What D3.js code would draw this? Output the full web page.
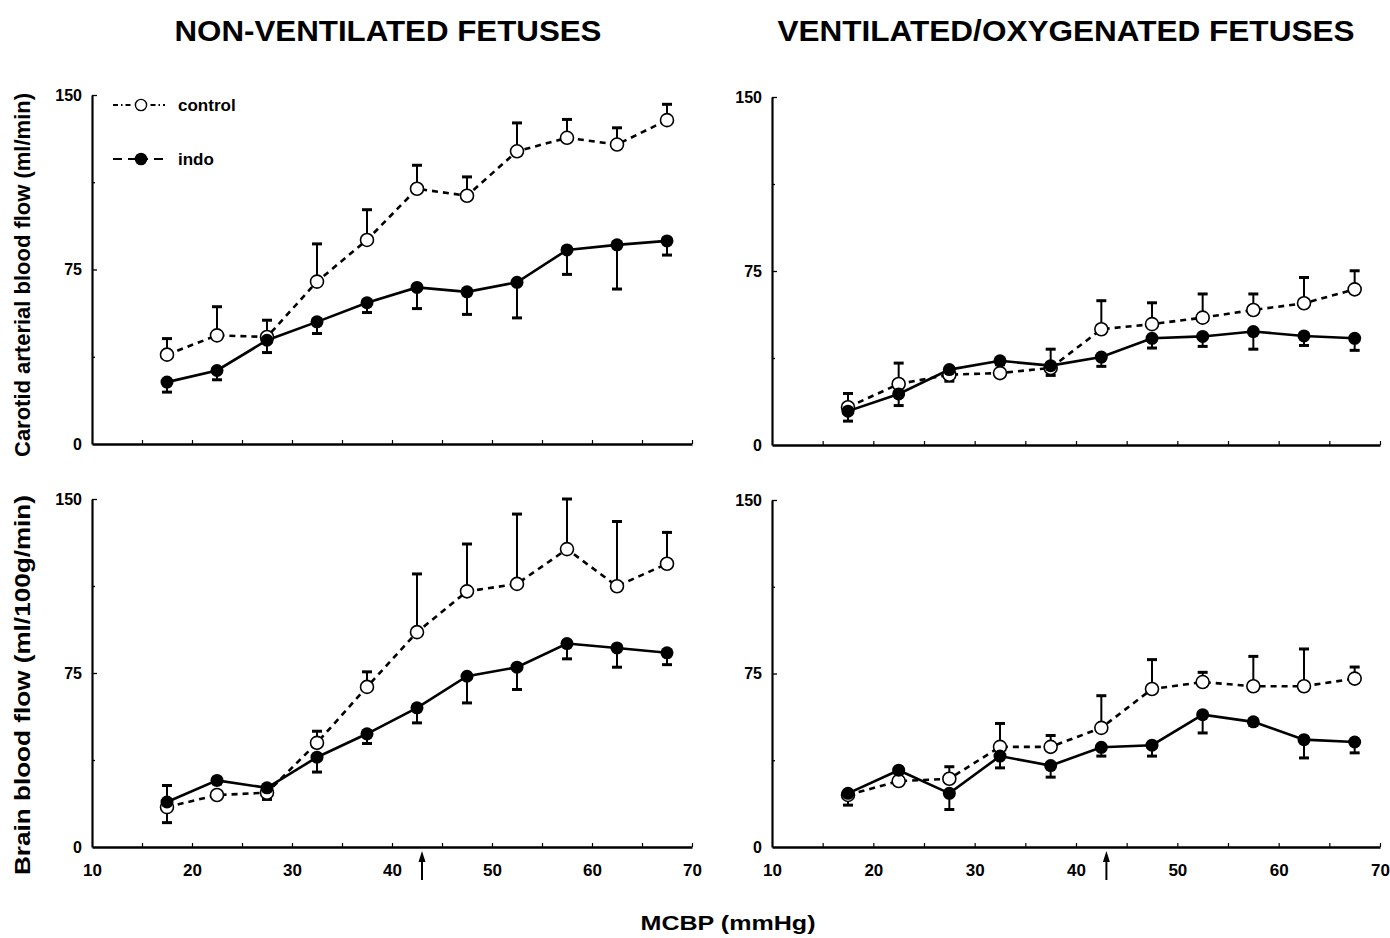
<!DOCTYPE html>
<html>
<head>
<meta charset="utf-8">
<script src="https://cdn.jsdelivr.net/npm/d3@7"></script>
<style>
  body { margin: 0; background: #fff; }
  svg { display: block; font-family: 'Liberation Sans', Arial, sans-serif; font-weight: bold; }
</style>
</head>
<body>
<svg id="chart" width="1390" height="938"></svg>
<script>
// MCBP steps (mmHg)
const mcbp = [17.5, 22.5, 27.5, 32.5, 37.5, 42.5, 47.5, 52.5, 57.5, 62.5, 67.5]
const xTicks = [10, 15, 20, 25, 30, 35, 40, 45, 50, 55, 60, 65, 70]
const xLabelTicks = [10, 20, 30, 40, 50, 60, 70]
const yTicks = [0, 37.5, 75, 112.5, 150]
const yLabelTicks = [0, 75, 150]
const arrowAt = 43

// carotid flow, non-ventilated
const carotidNonVentControl = [38.4, 46.7, 46.0, 69.8, 87.7, 109.7, 106.7, 125.8, 131.6, 128.7, 139.2]
const carotidNonVentControlSem = [6.9, 12.3, 7.2, 16.2, 13.0, 10.1, 8.1, 12.2, 7.9, 7.2, 6.8]
const carotidNonVentIndo = [26.6, 31.6, 44.6, 52.5, 60.7, 67.3, 65.4, 69.5, 83.4, 85.6, 87.3]
const carotidNonVentIndoSem = [4.3, 4.0, 5.3, 5.0, 4.2, 9.1, 9.7, 15.3, 10.5, 19.0, 6.1]

// carotid flow, ventilated
const carotidVentControl = [16.3, 26.3, 30.3, 31.0, 33.2, 49.9, 52.1, 54.9, 58.2, 61.1, 67.1]
const carotidVentControlSem = [5.9, 9.0, 1.5, 1.0, 8.1, 12.3, 9.2, 10.2, 6.9, 11.1, 8.0]
const carotidVentIndo = [14.6, 22.0, 32.5, 36.3, 34.2, 37.9, 46.0, 46.8, 48.9, 47.0, 46.0]
const carotidVentIndoSem = [4.3, 5.0, 5.0, 1.7, 4.2, 4.0, 4.2, 4.3, 7.6, 4.1, 5.2]

// brain flow, non-ventilated
const brainNonVentControl = [17.2, 22.4, 23.4, 44.9, 69.0, 92.6, 110.2, 113.4, 128.4, 112.4, 122.1]
const brainNonVentControlSem = [9.3, 1.5, 1.5, 5.0, 6.5, 25.1, 20.4, 30.1, 21.6, 27.9, 13.5]
const brainNonVentIndo = [19.4, 28.7, 25.5, 38.7, 48.8, 60.0, 73.6, 77.5, 87.7, 85.8, 83.7]
const brainNonVentIndoSem = [8.9, 1.5, 5.0, 6.4, 4.2, 6.5, 11.5, 9.6, 6.6, 8.3, 5.1]

// brain flow, ventilated
const brainVentControl = [22.5, 28.5, 29.5, 43.3, 43.3, 51.5, 68.3, 71.3, 69.5, 69.5, 72.8]
const brainVentControlSem = [1.5, 1.5, 5.2, 10.1, 4.9, 13.9, 12.7, 4.2, 12.9, 16.1, 5.0]
const brainVentIndo = [23.2, 33.2, 23.2, 39.3, 35.2, 43.1, 44.0, 57.2, 54.1, 46.4, 45.4]
const brainVentIndoSem = [5.1, 1.5, 7.0, 5.1, 5.0, 3.8, 4.7, 7.9, 1.5, 7.9, 4.7]

const svg = d3.select('#chart')

const panels = [
  { left: 92, right: 692, top: 95, bottom: 444, control: carotidNonVentControl, controlSem: carotidNonVentControlSem,
    indo: carotidNonVentIndo, indoSem: carotidNonVentIndoSem, xLabels: false, legend: true },
  { left: 772, right: 1380, top: 97, bottom: 445, control: carotidVentControl, controlSem: carotidVentControlSem,
    indo: carotidVentIndo, indoSem: carotidVentIndoSem, xLabels: false, legend: false },
  { left: 92, right: 692, top: 499, bottom: 847, control: brainNonVentControl, controlSem: brainNonVentControlSem,
    indo: brainNonVentIndo, indoSem: brainNonVentIndoSem, xLabels: true, legend: false },
  { left: 772, right: 1380, top: 500, bottom: 847, control: brainVentControl, controlSem: brainVentControlSem,
    indo: brainVentIndo, indoSem: brainVentIndoSem, xLabels: true, legend: false }
]

const R = 6.5
const CAP = 5

panels.forEach(p => {
  const x = d3.scaleLinear().domain([10, 70]).range([p.left, p.right])
  const y = d3.scaleLinear().domain([0, 150]).range([p.bottom, p.top])
  const g = svg.append('g')

  // axes
  const xAxis = d3.axisBottom(x)
    .tickValues(xTicks)
    .tickSize(-4)
    .tickSizeOuter(0)
    .tickPadding(17)
    .tickFormat(d => p.xLabels && xLabelTicks.includes(d) ? d : '')

  const yAxis = d3.axisLeft(y)
    .tickValues(yTicks)
    .tickSize(-5)
    .tickSizeOuter(0)
    .tickPadding(10)
    .tickFormat(d => yLabelTicks.includes(d) ? d : '')

  const gx = g.append('g').attr('transform', `translate(0,${p.bottom})`).call(xAxis)
  gx.select('.domain').attr('stroke', '#000').attr('stroke-width', 2.6)
  gx.selectAll('.tick line').attr('stroke-width', 1.2).attr('y2', d => d === 10 ? 0 : -4)
  gx.selectAll('.tick text')
    .attr('fill', '#000')
    .style('font-size', '17px')
    .style('font-family', "'Liberation Sans', Arial, sans-serif")
    .style('font-weight', 'bold')

  const gy = g.append('g').attr('transform', `translate(${p.left},0)`).call(yAxis)
  gy.select('.domain').attr('stroke', '#000').attr('stroke-width', 2.2)
  gy.selectAll('.tick line').attr('stroke-width', 1.3).attr('x2', d => d === 0 ? 0 : (d % 75 === 0 ? 5 : 3))
  gy.selectAll('.tick text')
    .attr('fill', '#000')
    .style('font-size', '16px')
    .style('font-family', "'Liberation Sans', Arial, sans-serif")
    .style('font-weight', 'bold')

  // lines
  const line = d3.line().x((d, i) => x(mcbp[i])).y(d => y(d))
  g.append('path').datum(p.control).attr('d', line)
    .attr('fill', 'none').attr('stroke', '#000').attr('stroke-width', 2.6).attr('stroke-dasharray', '6,5')
  g.append('path').datum(p.indo).attr('d', line)
    .attr('fill', 'none').attr('stroke', '#000').attr('stroke-width', 2.6)

  // error bars: control upward, indo downward
  const bars = [
    ...p.control.map((v, i) => ({ xv: mcbp[i], y0: v, y1: v + p.controlSem[i] })),
    ...p.indo.map((v, i) => ({ xv: mcbp[i], y0: v, y1: v - p.indoSem[i] }))
  ]
  const eb = g.append('g').selectAll('g').data(bars).join('g')
  eb.append('line')
    .attr('x1', d => x(d.xv)).attr('x2', d => x(d.xv))
    .attr('y1', d => y(d.y0)).attr('y2', d => y(d.y1))
    .attr('stroke', '#000').attr('stroke-width', 2)
  eb.append('line')
    .attr('x1', d => x(d.xv) - CAP).attr('x2', d => x(d.xv) + CAP)
    .attr('y1', d => y(d.y1)).attr('y2', d => y(d.y1))
    .attr('stroke', '#000').attr('stroke-width', 3)

  // markers
  g.append('g').selectAll('circle').data(p.control).join('circle')
    .attr('cx', (d, i) => x(mcbp[i])).attr('cy', d => y(d)).attr('r', R)
    .attr('fill', '#fff').attr('stroke', '#000').attr('stroke-width', 1.6)
  g.append('g').selectAll('circle').data(p.indo).join('circle')
    .attr('cx', (d, i) => x(mcbp[i])).attr('cy', d => y(d)).attr('r', R)
    .attr('fill', '#000')

  // arrow under the axis
  if (p.xLabels) {
    const ax = x(arrowAt)
    g.append('line')
      .attr('x1', ax).attr('x2', ax).attr('y1', p.bottom + 10).attr('y2', p.bottom + 33)
      .attr('stroke', '#000').attr('stroke-width', 2)
    g.append('path')
      .attr('d', `M${ax},${p.bottom + 4}L${ax - 3.5},${p.bottom + 15}L${ax + 3.5},${p.bottom + 15}Z`)
      .attr('fill', '#000')
  }

  // legend
  if (p.legend) {
    const lg = g.append('g')
    lg.append('line').attr('x1', 113).attr('x2', 165).attr('y1', 105).attr('y2', 105)
      .attr('stroke', '#000').attr('stroke-width', 2).attr('stroke-dasharray', '5,3,1.5,3')
    lg.append('circle').attr('cx', 141).attr('cy', 105).attr('r', 6.5)
      .attr('fill', '#fff').attr('stroke', '#fff').attr('stroke-width', 3)
    lg.append('circle').attr('cx', 141).attr('cy', 105).attr('r', 5.6)
      .attr('fill', '#fff').attr('stroke', '#000').attr('stroke-width', 1.4)
    lg.append('text').attr('x', 178).attr('y', 111).text('control').style('font-size', '17px')

    lg.append('line').attr('x1', 113).attr('x2', 163).attr('y1', 159).attr('y2', 159)
      .attr('stroke', '#000').attr('stroke-width', 2.2).attr('stroke-dasharray', '9,6,20,6,9')
    lg.append('circle').attr('cx', 141).attr('cy', 159).attr('r', 6.3).attr('fill', '#000')
    lg.append('text').attr('x', 178).attr('y', 165).text('indo').style('font-size', '17px')
  }
})

// titles
svg.append('text').attr('x', 388).attr('y', 41).attr('text-anchor', 'middle')
  .attr('textLength', 427).attr('lengthAdjust', 'spacingAndGlyphs')
  .style('font-size', '29px').text('NON-VENTILATED FETUSES')
svg.append('text').attr('x', 1066).attr('y', 41).attr('text-anchor', 'middle')
  .attr('textLength', 577).attr('lengthAdjust', 'spacingAndGlyphs')
  .style('font-size', '29px').text('VENTILATED/OXYGENATED FETUSES')

// y labels
svg.append('text').attr('transform', 'translate(30,275) rotate(-90)').attr('text-anchor', 'middle')
  .attr('textLength', 364).attr('lengthAdjust', 'spacingAndGlyphs')
  .style('font-size', '22px').text('Carotid arterial blood flow (ml/min)')
svg.append('text').attr('transform', 'translate(30,685) rotate(-90)').attr('text-anchor', 'middle')
  .attr('textLength', 380).attr('lengthAdjust', 'spacingAndGlyphs')
  .style('font-size', '22px').text('Brain blood flow (ml/100g/min)')

// x label
svg.append('text').attr('x', 728).attr('y', 930).attr('text-anchor', 'middle')
  .attr('textLength', 175).attr('lengthAdjust', 'spacingAndGlyphs')
  .style('font-size', '21px').text('MCBP (mmHg)')
</script>
</body>
</html>
